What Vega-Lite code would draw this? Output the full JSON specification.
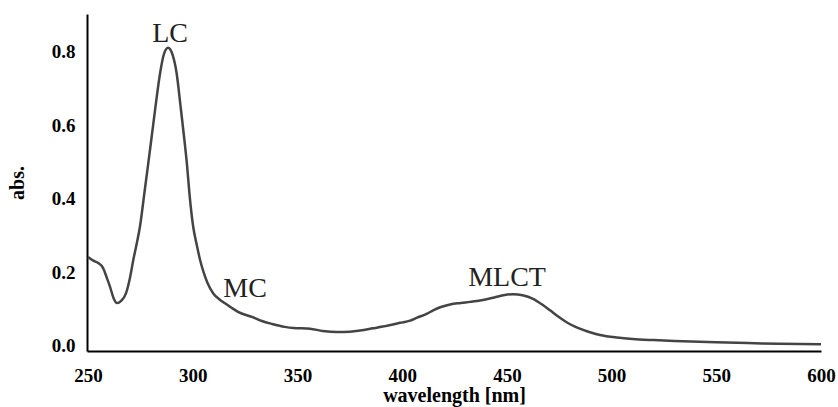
{
  "$schema": "https://vega.github.io/schema/vega-lite/v6.json",
  "width": 734,
  "height": 337,
  "autosize": {"type": "none"},
  "padding": {"left": 87, "top": 14, "right": 17, "bottom": 56},
  "background": "white",
  "config": {
    "view": {"stroke": null},
    "font": "Liberation Serif"
  },
  "layer": [
    {
      "data": {
        "values": [
          {"wavelength": 250, "abs": 0.242},
          {"wavelength": 252.5, "abs": 0.232},
          {"wavelength": 254.8, "abs": 0.226},
          {"wavelength": 257.2, "abs": 0.212},
          {"wavelength": 259, "abs": 0.185},
          {"wavelength": 260.5, "abs": 0.161},
          {"wavelength": 262.2, "abs": 0.13},
          {"wavelength": 263.8, "abs": 0.117},
          {"wavelength": 265.8, "abs": 0.123},
          {"wavelength": 268.1, "abs": 0.143},
          {"wavelength": 270, "abs": 0.185},
          {"wavelength": 271.6, "abs": 0.234},
          {"wavelength": 273.3, "abs": 0.28},
          {"wavelength": 274.8, "abs": 0.325},
          {"wavelength": 276.9, "abs": 0.416},
          {"wavelength": 278.6, "abs": 0.49},
          {"wavelength": 280.2, "abs": 0.561},
          {"wavelength": 282.2, "abs": 0.651},
          {"wavelength": 284.4, "abs": 0.742},
          {"wavelength": 286.3, "abs": 0.795},
          {"wavelength": 288.2, "abs": 0.811},
          {"wavelength": 290.3, "abs": 0.793},
          {"wavelength": 292.3, "abs": 0.742},
          {"wavelength": 294.2, "abs": 0.651},
          {"wavelength": 296, "abs": 0.561},
          {"wavelength": 297.3, "abs": 0.49},
          {"wavelength": 298.4, "abs": 0.416},
          {"wavelength": 300.2, "abs": 0.325},
          {"wavelength": 301.8, "abs": 0.278},
          {"wavelength": 303.5, "abs": 0.234},
          {"wavelength": 305.2, "abs": 0.2},
          {"wavelength": 307, "abs": 0.172},
          {"wavelength": 309.8, "abs": 0.143},
          {"wavelength": 312.5, "abs": 0.128},
          {"wavelength": 315.4, "abs": 0.116},
          {"wavelength": 318.5, "abs": 0.104},
          {"wavelength": 321.6, "abs": 0.093},
          {"wavelength": 328.3, "abs": 0.079},
          {"wavelength": 333, "abs": 0.068},
          {"wavelength": 337.9, "abs": 0.06},
          {"wavelength": 344, "abs": 0.052},
          {"wavelength": 348, "abs": 0.049},
          {"wavelength": 356, "abs": 0.047},
          {"wavelength": 362, "abs": 0.041},
          {"wavelength": 368.9, "abs": 0.038},
          {"wavelength": 375, "abs": 0.039},
          {"wavelength": 379.9, "abs": 0.042},
          {"wavelength": 386, "abs": 0.048},
          {"wavelength": 392.8, "abs": 0.055},
          {"wavelength": 399, "abs": 0.063},
          {"wavelength": 403.8, "abs": 0.069},
          {"wavelength": 407.1, "abs": 0.077},
          {"wavelength": 411.9, "abs": 0.088},
          {"wavelength": 414.8, "abs": 0.097},
          {"wavelength": 418.5, "abs": 0.106},
          {"wavelength": 422.9, "abs": 0.113},
          {"wavelength": 428, "abs": 0.117},
          {"wavelength": 432.4, "abs": 0.12},
          {"wavelength": 438.6, "abs": 0.125},
          {"wavelength": 444, "abs": 0.132},
          {"wavelength": 449, "abs": 0.139},
          {"wavelength": 453, "abs": 0.141},
          {"wavelength": 457.5, "abs": 0.138},
          {"wavelength": 462.5, "abs": 0.128},
          {"wavelength": 466.5, "abs": 0.114},
          {"wavelength": 470.6, "abs": 0.097},
          {"wavelength": 474.5, "abs": 0.08},
          {"wavelength": 478.7, "abs": 0.064},
          {"wavelength": 482.5, "abs": 0.053},
          {"wavelength": 486.4, "abs": 0.044},
          {"wavelength": 490.5, "abs": 0.036},
          {"wavelength": 494.5, "abs": 0.03},
          {"wavelength": 502.6, "abs": 0.023},
          {"wavelength": 510, "abs": 0.019},
          {"wavelength": 520, "abs": 0.016},
          {"wavelength": 534, "abs": 0.013},
          {"wavelength": 550, "abs": 0.01},
          {"wavelength": 565, "abs": 0.008},
          {"wavelength": 580, "abs": 0.006},
          {"wavelength": 600, "abs": 0.005}
        ]
      },
      "mark": {"type": "line", "interpolate": "monotone", "color": "#444444", "strokeWidth": 2.5},
      "encoding": {
        "x": {
          "field": "wavelength",
          "type": "quantitative",
          "scale": {"domain": [249.5, 600], "nice": false, "zero": false},
          "axis": {
            "title": "wavelength [nm]",
            "values": [250, 300, 350, 400, 450, 500, 550, 600],
            "grid": false,
            "ticks": false,
            "domainColor": "black",
            "domainWidth": 2,
            "labelFont": "Liberation Serif",
            "labelFontSize": 19,
            "labelFontWeight": "bold",
            "labelColor": "black",
            "labelPadding": 15,
            "labelFlush": false,
            "titleFont": "Liberation Serif",
            "titleFontSize": 20,
            "titleFontWeight": "bold",
            "titleColor": "black",
            "titlePadding": 0
          }
        },
        "y": {
          "field": "abs",
          "type": "quantitative",
          "scale": {"domain": [-0.0136, 0.903], "nice": false, "zero": false},
          "axis": {
            "title": "abs.",
            "values": [0, 0.2, 0.4, 0.6, 0.8],
            "format": ".1f",
            "grid": false,
            "ticks": false,
            "domainColor": "black",
            "domainWidth": 2,
            "labelFont": "Liberation Serif",
            "labelFontSize": 19,
            "labelFontWeight": "bold",
            "labelColor": "black",
            "labelPadding": 12,
            "titleFont": "Liberation Serif",
            "titleFontSize": 20,
            "titleFontWeight": "bold",
            "titleColor": "black",
            "titlePadding": 24
          }
        }
      }
    },
    {
      "data": {
        "values": [
          {"label": "LC", "wavelength": 289.2, "abs": 0.827},
          {"label": "MC", "wavelength": 325, "abs": 0.133},
          {"label": "MLCT", "wavelength": 450.1, "abs": 0.163}
        ]
      },
      "mark": {"type": "text", "font": "Liberation Serif", "fontSize": 28, "color": "#222222", "align": "center", "baseline": "alphabetic"},
      "encoding": {
        "x": {"field": "wavelength", "type": "quantitative"},
        "y": {"field": "abs", "type": "quantitative"},
        "text": {"field": "label"}
      }
    }
  ]
}
